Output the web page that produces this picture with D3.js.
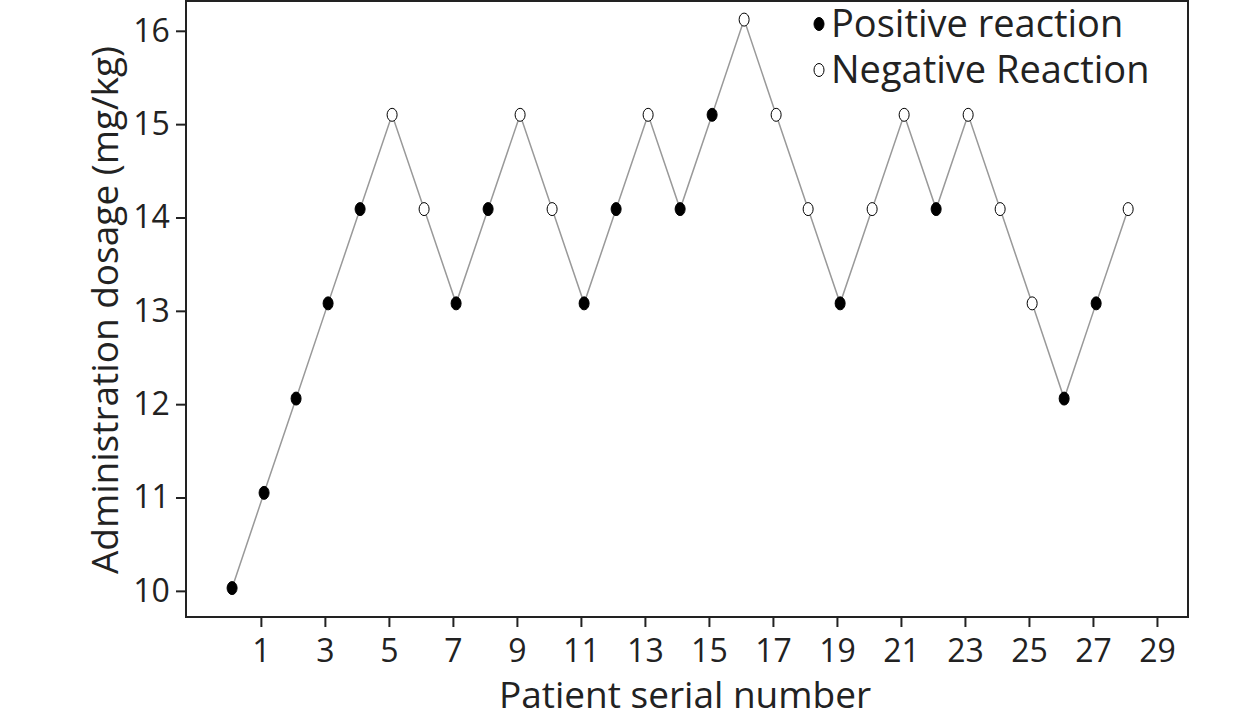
<!DOCTYPE html><html><head><meta charset="utf-8"><script src="https://cdn.jsdelivr.net/npm/d3@7"></script>
<style>body{margin:0;background:#fff}text{font-family:"Open Sans",sans-serif}</style></head><body><svg id="c" width="1260" height="724"></svg>
<script>
const serial=[0,1,2,3,4,5,6,7,8,9,10,11,12,13,14,15,16,17,18,19,20,21,22,23,24,25,26,27,28];
const dose=[10.03,11.05,12.06,13.08,14.09,15.1,14.09,13.08,14.09,15.1,14.09,13.08,14.09,15.1,14.09,15.1,16.12,15.1,14.09,13.08,14.09,15.1,14.09,15.1,14.09,13.08,12.06,13.08,14.09];
const positive=[1,1,1,1,1,0,0,1,1,0,0,1,1,0,1,1,0,0,0,1,0,0,1,0,0,0,1,1,0];
const xTicks=[1,3,5,7,9,11,13,15,17,19,21,23,25,27,29];
const yTicks=[10,11,12,13,14,15,16];
const svg=d3.select("#c");
const L=186,R=1188,T=0,B=617;
const x=d3.scaleLinear().domain([-1.34,29.97]).range([L,R]);
const y=d3.scaleLinear().domain([9.72,16.33]).range([B,T]);
svg.append("rect").attr("x",L).attr("y",T+1).attr("width",R-L).attr("height",B-T-1).attr("fill","none").attr("stroke","#222").attr("stroke-width",2);
const xa=svg.append("g").attr("transform",`translate(0,${B})`).call(d3.axisBottom(x).tickValues(xTicks).tickFormat(d3.format("d")).tickSize(10).tickSizeOuter(0));
const ya=svg.append("g").attr("transform",`translate(${L},0)`).call(d3.axisLeft(y).tickValues(yTicks).tickFormat(d3.format("d")).tickSize(10).tickSizeOuter(0));
[xa,ya].forEach(a=>{a.select(".domain").remove();a.selectAll("line").attr("stroke","#222").attr("stroke-width",2);a.selectAll("text").attr("font-size",32).attr("fill","#222").attr("font-family","Open Sans, sans-serif");});
xa.selectAll("text").attr("dy","1.0em");
ya.selectAll("text").attr("dx","-0.1em");
const pts=serial.map((s,i)=>({s:s+0.1,v:dose[i],p:positive[i]}));
svg.append("path").datum(pts).attr("d",d3.line().x(d=>x(d.s)).y(d=>y(d.v))).attr("fill","none").attr("stroke","#999").attr("stroke-width",1.5);
svg.selectAll(".pt").data(pts).join("ellipse").attr("cx",d=>x(d.s)).attr("cy",d=>y(d.v)).attr("rx",5).attr("ry",6.5)
 .attr("fill",d=>d.p?"#000":"#fff").attr("stroke","#000").attr("stroke-width",1);
svg.append("text").attr("x",685).attr("y",708).attr("text-anchor","middle").attr("font-size",37).attr("fill","#222").text("Patient serial number");
svg.append("text").attr("transform","translate(118,310) rotate(-90)").attr("text-anchor","middle").attr("font-size",37).attr("fill","#222").text("Administration dosage (mg/kg)");
const leg=[["Positive reaction",1,24],["Negative Reaction",0,70]];
leg.forEach(([t,p,yy])=>{svg.append("ellipse").attr("cx",819).attr("cy",yy).attr("rx",5).attr("ry",6.5).attr("fill",p?"#000":"#fff").attr("stroke","#000");
svg.append("text").attr("x",831).attr("y",yy+13).attr("font-size",38).attr("fill","#222").text(t);});
</script></body></html>
